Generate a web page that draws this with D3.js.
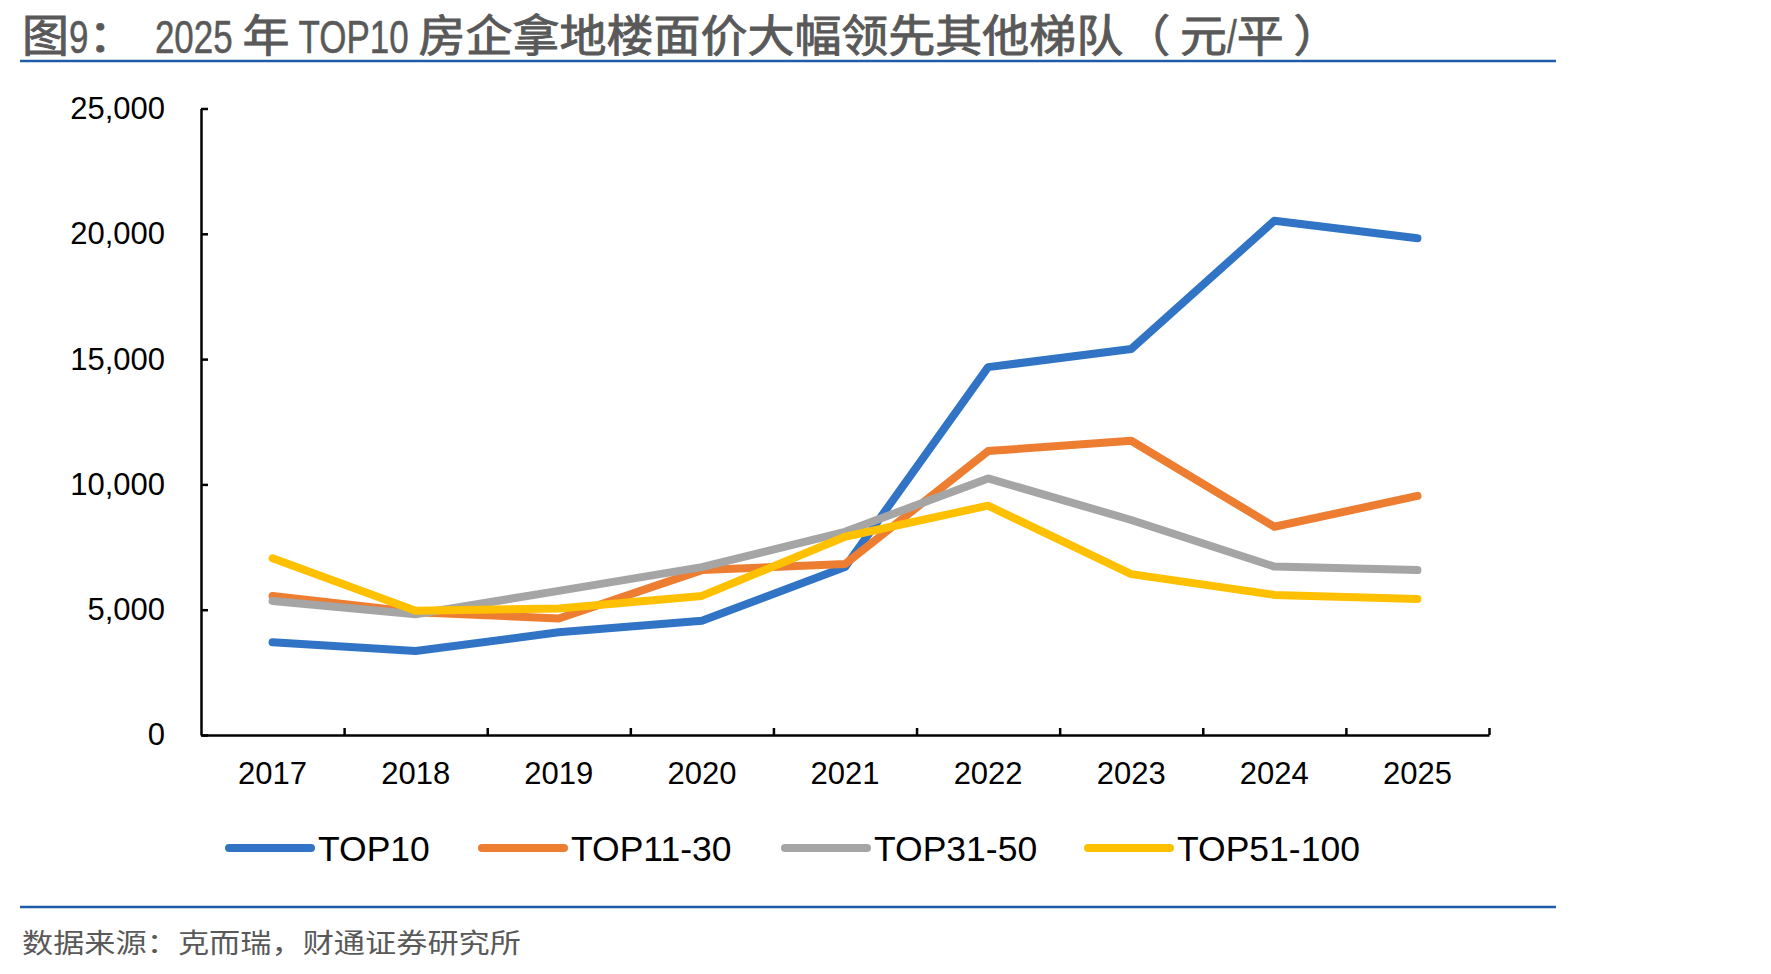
<!DOCTYPE html>
<html>
<head>
<meta charset="utf-8">
<script src="https://cdn.jsdelivr.net/npm/d3@7"></script>
<style>
  body { margin: 0; background: #fff; }
  svg { display: block; }
  .axis text { font-family: "Liberation Sans", Arial, sans-serif; font-size: 31px; fill: #000; }
  .axis path, .axis line { stroke: #000; }
</style>
</head>
<body>
<svg width="1771" height="974"></svg>
<script>
// chart data
let years = ["2017", "2018", "2019", "2020", "2021", "2022", "2023", "2024", "2025"];
let top10 = [3700, 3350, 4100, 4560, 6700, 14680, 15400, 20520, 19820];
let top11to30 = [5550, 4900, 4650, 6580, 6820, 11330, 11740, 8310, 9540];
let top31to50 = [5350, 4820, 5750, 6700, 8110, 10240, 8580, 6720, 6580];
let top51to100 = [7050, 4960, 5050, 5550, 7910, 9150, 6420, 5590, 5430];
let seriesNames = ["TOP10", "TOP11-30", "TOP31-50", "TOP51-100"];
let yTicks = [0, 5000, 10000, 15000, 20000, 25000];

let colors = ["#3174c6", "#ed7d31", "#a5a5a5", "#ffc000"];

let svg = d3.select("svg");

let margin = { top: 108.5, left: 201, right: 1771 - 1489, bottom: 974 - 735 };
let plotWidth = 1771 - margin.left - margin.right;
let plotHeight = 974 - margin.top - margin.bottom;

/*
 * title: the original mixes a tall narrow latin face with a wide cjk face,
 * so each run gets its own text element and we flow them left to right
 */
let titleParts = [
  ["图", true], ["9", false], ["：", true], ["  2025 ", false], ["年", true],
  [" TOP10 ", false], ["房企拿地楼面价大幅领先其他梯队（", true], [" ", false],
  ["元", true], ["/", false], ["平", true], [" ", false], ["）", true]
];

let cjkStretch = 47 / 44;
let titleGroup = svg.append("g").attr("id", "title");
let cursor = 22;
titleParts.forEach(function(p) {
  let t = titleGroup.append("text")
    .attr("xml:space", "preserve")
    .style("white-space", "pre")
    .style("fill", "#595959")
    .style("stroke", "#595959")
    .text(p[0]);
  let w;
  if (p[1]) {
    t.style("font-family", "'Noto Sans CJK SC', sans-serif")
      .style("font-size", "44px")
      .style("stroke-width", 0.9)
      .attr("transform", "translate(" + cursor + ",51.5) scale(" + cjkStretch + ",1)");
    w = t.node().getComputedTextLength() * cjkStretch;
  } else {
    t.style("font-family", "'Liberation Sans', Arial, sans-serif")
      .style("font-size", "35px")
      .style("stroke-width", 0.4)
      .attr("transform", "translate(" + cursor + ",52.5) scale(1,1.32)");
    w = t.node().getComputedTextLength();
  }
  cursor += w;
});

svg.append("line")
  .attr("x1", 20).attr("x2", 1556)
  .attr("y1", 61).attr("y2", 61)
  .style("stroke", "#1f5ba6")
  .style("stroke-width", 2.5);

// footer
svg.append("line")
  .attr("x1", 20).attr("x2", 1556)
  .attr("y1", 907).attr("y2", 907)
  .style("stroke", "#1f5ba6")
  .style("stroke-width", 2.5);

svg.append("text")
  .attr("x", 22)
  .attr("y", 953)
  .attr("textLength", 499)
  .attr("lengthAdjust", "spacingAndGlyphs")
  .style("font-family", "'Noto Sans CJK SC', sans-serif")
  .style("font-size", "27px")
  .style("fill", "#595959")
  .text("数据来源：克而瑞，财通证券研究所");

let plot = svg.append("g")
  .attr("transform", "translate(" + margin.left + "," + margin.top + ")");

// scales
let yScale = d3.scaleLinear().domain([0, 25000]).range([plotHeight, 0]);
let xScale = d3.scaleBand().domain(years).range([0, plotWidth]);
let edgeScale = d3.scaleLinear().domain([0, years.length]).range([0, plotWidth]);

// y axis, ticks pointing into the plot
let yAxis = d3.axisLeft(yScale)
  .tickValues(yTicks)
  .tickFormat(d3.format(","))
  .tickSizeInner(-7)
  .tickSizeOuter(0)
  .tickPadding(36);

let yGroup = plot.append("g").attr("class", "axis").call(yAxis);
yGroup.select(".domain").style("stroke-width", 2.5);
yGroup.selectAll(".tick line").style("stroke-width", 2.5);

// x axis: labels at band centres, ticks at band edges
let xAxis = d3.axisBottom(xScale).tickSize(0).tickPadding(27);
let xGroup = plot.append("g")
  .attr("class", "axis")
  .attr("transform", "translate(0," + plotHeight + ")")
  .call(xAxis);
xGroup.select(".domain").remove();

let edgeAxis = d3.axisBottom(edgeScale)
  .tickValues(d3.range(1, years.length + 1))
  .tickFormat("")
  .tickSizeInner(-7)
  .tickSizeOuter(0);
let edgeGroup = plot.append("g")
  .attr("class", "axis")
  .attr("transform", "translate(0," + plotHeight + ")")
  .call(edgeAxis);
edgeGroup.select(".domain").style("stroke-width", 2.5);
edgeGroup.selectAll(".tick line").style("stroke-width", 2.5);

// lines
let allSeries = [top10, top11to30, top31to50, top51to100];

let line = d3.line()
  .x((d, i) => xScale(years[i]) + xScale.bandwidth() / 2)
  .y(d => yScale(d));

plot.selectAll("path.series")
  .data(allSeries)
  .enter().append("path")
  .attr("class", "series")
  .attr("d", d => line(d))
  .style("fill", "none")
  .style("stroke", (d, i) => colors[i])
  .style("stroke-width", 8)
  .style("stroke-linecap", "round")
  .style("stroke-linejoin", "round");

// legend
let legendX = [229, 482, 785, 1088];
let legend = svg.append("g").selectAll("g")
  .data(seriesNames)
  .enter().append("g")
  .attr("transform", (d, i) => "translate(" + legendX[i] + ",848)");

legend.append("line")
  .attr("x1", 0).attr("x2", 82)
  .style("stroke", (d, i) => colors[i])
  .style("stroke-width", 8)
  .style("stroke-linecap", "round");

legend.append("text")
  .attr("x", 89)
  .attr("y", 13)
  .style("font-family", "'Liberation Sans', Arial, sans-serif")
  .style("font-size", "35.5px")
  .style("fill", "#000")
  .text(d => d);
</script>
</body>
</html>
